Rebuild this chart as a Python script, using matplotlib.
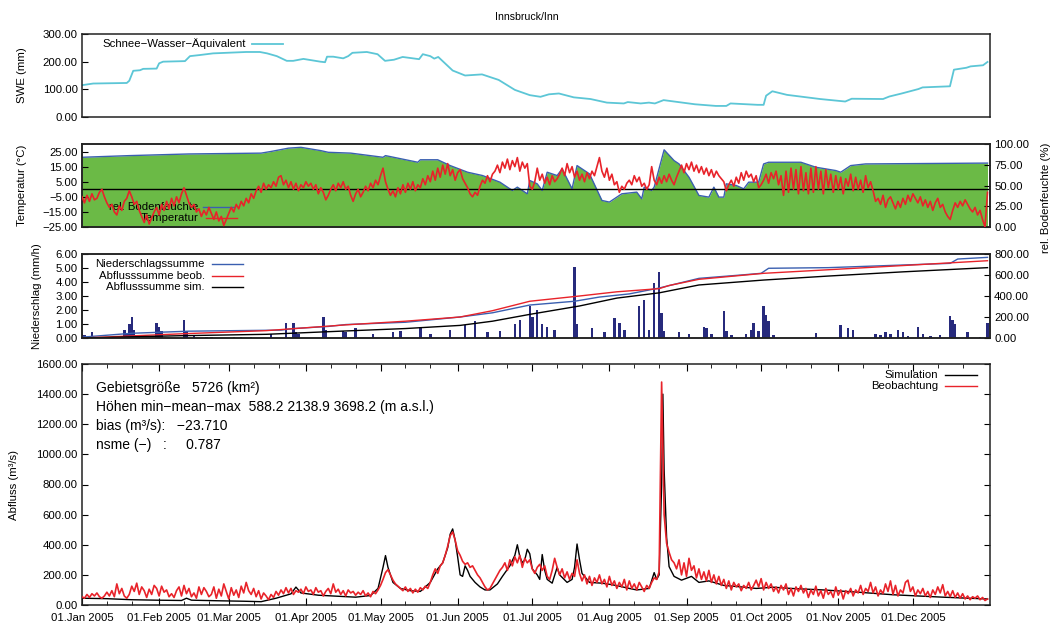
import datetime as dt
import numpy as np
import matplotlib
matplotlib.use("Agg")
import matplotlib.pyplot as plt
from matplotlib.ticker import FuncFormatter, FixedLocator

plt.rcParams['font.family'] = ['Liberation Sans', 'DejaVu Sans']

# ---------------- data ----------------
title = "Innsbruck/Inn"

# SWE (mm): day-of-year, value
swe_days = [0, 4.5, 18, 19, 20.6, 23.3, 24.6, 30, 31, 32.6, 41.4, 43.4, 47.4, 52.7, 66, 71.5, 74.4,
            78.3, 82.3, 84.9, 89, 95.8, 97.7, 98.5, 101, 105, 107, 108.7, 114.5, 118.8, 121.8, 125.4,
            128.9, 135.5, 137, 140, 141.6, 143.2, 149, 154, 160.8, 167.5, 174, 180, 184.3, 187.7,
            191.7, 197.7, 204.4, 211, 217.8, 219.4, 224.6, 227.9, 230.3, 233.8, 238, 246.4, 254.8,
            259, 260.7, 271.6, 274, 275, 277.5, 283.4, 296.7, 306.8, 309.4, 322, 324.5, 329.5,
            336.2, 337.9, 348.9, 350.5, 355.5, 357.2, 362.2, 364]
swe_vals = [115, 121, 123, 131, 167, 169, 174, 175, 194, 200, 202, 220, 224, 230, 235, 235, 230,
            220, 203, 203, 210, 200, 198, 218, 218, 212, 220, 232, 235, 227, 203, 207,
            217, 209, 227, 220, 211, 217, 168, 150, 154, 134, 98, 79, 73, 82,
            85, 71, 65, 52, 49, 54, 49, 52, 49, 61, 56, 46, 40,
            40, 49, 44, 44, 77, 93, 80, 65, 56, 66, 65, 74, 85,
            101, 107, 111, 171, 178, 183, 187, 199]

# air temperature (°C), daily from 1 Jan
temp_vals = [
    -5, -9, -4, -8, -3, -7, -6, -2, 0, -5,
    -9, -12, -10, -15, -17, -11, -14, -8, -6, -1,
    -5, -10, -8, -14, -18, -22, -17, -23, -19, -15,
    -12, -17, -10, -14, -8, -13, -6, -11, -5, -9,
    -3, 1, -4, -9, -12, -10, -15, -13, -18, -14,
    -17, -12, -16, -20, -15, -21, -18, -24, -20, -16,
    -12, -15, -10, -13, -8, -11, -6, -9, -3, -6,
    -1, 2, -2, 4, 0, 3, 1, 5, 2, 8,
    9, 3, 6, 1, 5, 0, 4, -1, 3, 1,
    5, 2, 4, 0, 3, -3, 1, -2, -7, -4,
    0, 3, -1, 4, 1, 5, 0, 2, -4, -8,
    -3, 0, -5, -2, 2, -1, 4, 1, 6, 3,
    9, 14, 5, 0, -4, -1, -5, 1, -3, 3,
    -2, 4, 0, 5, -1, 3, 1, 7, 3, 9,
    5, 12, 6, 14, 8, 16, 10, 17, 9, 13,
    6, 11, 13, 7, 4, 1, -3, -5, -2, -4,
    2, 6, 4, 9, 5, 10, 12, 16, 11, 18,
    14, 20, 13, 19, 15, 21, 12, 18, 14, 17,
    2, 0, 5, 14, 6, 10, 4, 8, 3, 9,
    5, 7, 10, 14, 9, 17, 11, 15, 8, 12,
    6, 10, 5, 11, 7, 12, 9, 15, 21, 12,
    8, 14, 6, 10, 3, 5, -2, 2, 0, 4,
    6, 3, 9, 5, 8, 2, 4, 0, 3, 15,
    6, 3, 8, 4, 9, 5, 10, 6, 3, 8,
    12, 16, 11, 17, 13, 18, 12, 16, 11, 15,
    10, 14, 9, 13, 8, 12, 9, 7, 5, -1,
    3, 6, 2, 8, 4, 11, 6, 12, 8, 10,
    5, 9, 1, 3, 6, 10, 4, 11, 7, 12,
    3, 9, -4, 12, -2, 14, 0, 13, -3, 15,
    -1, 11, -3, 14, -2, 15, 0, 12, -3, 13,
    1, 10, -2, 9, 0, 8, -3, 7, 2, 10,
    -1, 8, 0, 6, -2, 9, 1, 5, -1, -8,
    -6, -10, -4, -12, -7, -5, -9, -13, -8, -12,
    -6, -10, -4, -8, -3, -6, -9, -5, -11, -7,
    -12, -8, -14, -9, -6, -12, -10, -15, -18, -20,
    -14, -9, -12, -8, -11, -7, -10, -13, -15, -12,
    -17, -14, -20, -25, -2]

# relative soil moisture (%)
soil_days = [0, 19, 43, 72, 76, 83, 88, 96, 99, 108, 121, 122, 135, 136, 143, 148, 155, 161, 168,
             173, 175, 179, 180, 183, 185, 187, 191, 193, 197, 199, 204, 209, 212, 215, 217, 223,
             225, 226, 229, 230, 234, 238, 240, 244, 248, 252, 254, 256, 258, 259, 263, 266, 268,
             272, 274, 276, 289, 295, 303, 305, 307, 309, 315, 364]
soil_vals = [84, 86, 88, 89, 91, 95, 96, 92, 90, 89, 84, 86, 78, 81, 81, 74, 66, 62, 54,
             44, 48, 40, 56, 52, 44, 66, 62, 70, 46, 74, 64, 32, 30, 36, 40, 42,
             34, 48, 44, 48, 93, 80, 76, 60, 38, 36, 48, 36, 36, 52, 50, 46, 54,
             54, 76, 78, 78, 72, 68, 66, 70, 74, 76, 77]

# precipitation intensity (mm/h)
prec_days = [0, 1, 4, 17, 18, 19, 20, 21, 22, 23, 30, 31, 32, 41, 42, 45, 50, 52, 61, 64, 68, 76,
             82, 85, 86, 87, 97, 98, 105, 106, 110, 117, 125, 128, 136, 140, 148, 154, 158, 163,
             168, 174, 176, 180, 181, 183, 185, 187, 190, 198, 199, 205, 210, 214, 216, 218, 224,
             226, 228, 230, 232, 233, 234, 240, 244, 250, 251, 253, 258, 259, 261, 267, 269, 270,
             272, 274, 275, 276, 278, 295, 305, 308, 310, 319, 321, 323, 325, 328, 330, 332, 336,
             338, 341, 345, 349, 350, 351, 356, 361, 364]
prec_vals = [0.3, 0.2, 0.4, 0.6, 0.3, 1.0, 1.5, 0.6, 0.2, 0.2, 1.1, 0.8, 0.5, 1.3, 0.5, 0.2, 0.1,
             0.1, 0.1, 0.1, 0.1, 0.3, 1.1, 1.1, 0.4, 0.3, 1.5, 0.6, 0.5, 0.4, 0.7, 0.3, 0.4, 0.5,
             0.8, 0.3, 0.6, 0.9, 1.2, 0.4, 0.5, 1.0, 1.3, 2.3, 1.5, 2.0, 1.0, 0.8, 0.6, 5.1, 1.0,
             0.7, 0.4, 1.4, 1.1, 0.6, 2.3, 2.7, 0.6, 3.9, 4.7, 1.8, 0.5, 0.4, 0.3, 0.8, 0.7, 0.3,
             1.9, 0.5, 0.2, 0.3, 0.6, 1.1, 0.5, 2.3, 1.65, 1.2, 0.2, 0.35, 0.95, 0.7, 0.6, 0.3,
             0.2, 0.4, 0.3, 0.55, 0.45, 0.15, 0.8, 0.3, 0.15, 0.25, 1.55, 1.3, 1.0, 0.4, 0.1, 1.1]

# cumulative sums (mm)
psum_days = [0, 20, 43, 80, 85, 99, 106, 130, 152, 165, 180, 198, 208, 220, 232, 248, 265, 273,
             276, 300, 349, 352, 364]
psum_vals = [8, 45, 65, 75, 90, 110, 128, 150, 200, 240, 314, 350, 390, 420, 476, 568, 600, 616,
             664, 670, 711, 752, 768]
qobs_sum_days = [0, 40, 74, 106, 130, 152, 165, 180, 200, 215, 232, 236, 248, 274, 300, 330, 364]
qobs_sum_vals = [0, 40, 70, 125, 160, 200, 260, 350, 400, 440, 470, 500, 559, 616, 650, 690, 736]
qsim_sum_days = [0, 40, 74, 106, 130, 152, 165, 180, 200, 215, 232, 248, 274, 300, 330, 364]
qsim_sum_vals = [0, 22, 35, 67, 90, 120, 160, 225, 305, 380, 430, 505, 552, 590, 630, 670]

# observed discharge (m3/s), daily
qobs_vals = [
    55, 45, 70, 50, 75, 60, 80, 55, 45, 60,
    85, 60, 95, 55, 140, 75, 110, 60, 45, 70,
    125, 90, 145, 70, 120, 95, 50, 105, 70, 130,
    110, 60, 125, 85, 100, 55, 75, 50, 95, 120,
    60, 130, 75, 110, 55, 80, 45, 120, 70, 115,
    90, 55, 70, 120, 45, 105, 60, 140, 90,
    40, 115, 65, 100, 50, 125, 80, 150, 95, 70,
    110, 55, 95, 40, 80, 60, 35, 70, 50, 90,
    65, 100, 75, 115, 80, 110, 70, 95, 85, 105,
    75, 120, 90, 100, 70, 115, 85, 95, 60, 90,
    110, 75, 140, 85, 105, 70, 95, 60, 100, 80,
    90, 65, 85, 70, 95, 60, 80, 55, 90, 75,
    100, 130, 170, 215, 235, 200, 165, 140, 125, 110,
    95, 120, 90, 110, 80, 105, 85, 115, 100, 125,
    110, 150, 200, 240, 210, 260, 280, 330, 390, 460,
    485, 430, 360, 330, 290, 270, 280, 250, 260, 230,
    200, 180, 150, 120, 100, 110, 140, 170, 200, 230,
    250, 280, 230, 300, 260, 320, 280, 330, 250, 310,
    280, 300, 240, 210, 250, 270, 230, 260, 190, 170,
    230, 310, 250, 200, 240, 180, 220, 170, 210, 190,
    300, 210, 160, 200, 140, 190, 130, 180, 150, 200,
    140, 170, 120, 190, 130, 160, 110, 150, 120, 170,
    100, 160, 110, 140, 100, 150, 120, 90, 130, 110,
    150, 180, 170, 220, 1480, 600, 410, 350, 300, 280,
    240, 300, 200, 280, 190, 310, 230, 260, 180, 240,
    170, 220, 160, 230, 150, 200, 140, 190, 130, 170,
    110, 160, 100, 150, 120, 140, 95, 130, 110, 150,
    100, 130, 165, 120, 175, 100, 150, 110, 140, 90,
    120, 80, 130, 100, 140, 70, 110, 60, 120, 90,
    130, 80, 110, 50, 100, 70, 125, 60, 95, 45,
    110, 70, 90, 50, 120, 65, 100, 40, 95, 75,
    110, 60, 100, 80, 130, 70, 110, 90, 150, 80,
    120, 60, 100, 75, 140, 90, 160, 70, 130, 60,
    100, 80, 150, 165, 90, 120, 60, 100, 75, 110,
    60, 90, 50, 100, 70, 120, 80, 135, 60, 90,
    55, 95, 50, 80, 45, 75, 40, 60, 35, 55,
    45, 60, 35, 50, 30, 40]

# simulated discharge (m3/s)
qsim_days = [0, 10, 20, 30, 40, 42, 44, 55, 65, 72, 78, 84, 86, 88, 95, 103, 110, 116, 119, 121,
             122, 123, 125, 128, 132, 136, 140, 143, 145, 147, 148, 149, 150, 151, 152, 153, 154,
             155, 156, 158, 160, 162, 164, 167, 169, 172, 174, 175, 176, 177, 178, 179, 180, 181,
             183, 184, 185, 186, 187, 189, 191, 192, 195, 197, 198, 199, 200, 201, 204, 209, 213,
             216, 220, 223, 228, 230, 231, 232, 233, 233.5, 234, 235, 236, 238, 241, 245, 248,
             252, 258, 265, 271, 278, 285, 298, 312, 326, 346, 364]
qsim_vals = [45, 42, 35, 32, 30, 45, 32, 28, 25, 22, 45, 74, 119, 80, 65, 58, 52, 63, 110, 250,
             328, 250, 150, 110, 95, 90, 150, 240, 280, 380, 470, 505, 430, 320, 200, 190, 260,
             230, 190, 150, 120, 100, 100, 140, 190, 260, 330, 400, 320, 280, 300, 370, 340, 240,
             200, 170, 335, 230, 170, 145, 250, 200, 150, 170, 250, 405, 300, 210, 150, 145, 135,
             125, 110, 100, 110, 215, 170, 200, 800, 1400, 900, 450, 255, 190, 165, 190, 150,
             160, 130, 120, 110, 118, 110, 100, 85, 68, 52, 40]

info_lines = ["Gebietsgröße   5726 (km²)",
              "Höhen min−mean−max  588.2 2138.9 3698.2 (m a.s.l.)",
              "bias (m³/s):   −23.710",
              "nsme (−)   :     0.787"]

# ---------------- styling ----------------
W, H = 1051, 623
C_SWE = "#5cc6d6"
C_GREEN = "#6bba46"
C_BLUE = "#3a5fb0"
C_RED = "#e8232a"
C_NAVY = "#272a7c"
FS = 8.2

fig = plt.figure(figsize=(W / 100, H / 100), dpi=100)


def rect(top, bottom, left=82, right=990):
    return [left / W, 1 - bottom / H, (right - left) / W, (bottom - top) / H]


def fmt2(x, pos):
    return f"{x:.2f}".replace("-", "−")


def style(ax, xt=False):
    for s in ax.spines.values():
        s.set_linewidth(1.1)
        s.set_color("#222222")
    ax.tick_params(axis="both", direction="in", labelsize=FS, length=4, width=0.8, pad=3)
    ax.yaxis.set_major_formatter(FuncFormatter(fmt2))
    ax.set_xlim(0, 365)
    if not xt:
        ax.set_xticks([])


def ftext(x, y, s, **kw):
    fig.text(x / W, 1 - y / H, s, **kw)


ftext(527, 17, title, ha="center", va="center", fontsize=7.6)

# --- panel 1: SWE ---
ax1 = fig.add_axes(rect(34, 117))
style(ax1)
ax1.plot(swe_days, swe_vals, color=C_SWE, lw=1.3)
ax1.set_ylim(0, 300)
ax1.set_yticks([0, 100, 200, 300])
ftext(22, 75, "SWE (mm)", rotation=90, ha="center", va="center", fontsize=FS)
ftext(246, 44, "Schnee−Wasser−Äquivalent", ha="right", va="center", fontsize=FS)
fig.add_artist(plt.Line2D([252 / W, 283 / W], [1 - 44 / H] * 2, color=C_SWE, lw=1.3))

# --- panel 2: temperature + soil moisture ---
ax2 = fig.add_axes(rect(144, 227))
ax2r = ax2.twinx()
style(ax2)
style(ax2r)
ax2.set_zorder(ax2r.get_zorder() + 1)
ax2.patch.set_visible(False)
ax2r.fill_between(soil_days, 0, soil_vals, color=C_GREEN, lw=0)
ax2r.plot(soil_days, soil_vals, color=C_BLUE, lw=1.0)
ax2r.set_ylim(0, 100)
ax2r.set_yticks([0, 25, 50, 75, 100])
ax2.axhline(0, color="black", lw=1.0, zorder=2)
days365 = np.arange(len(temp_vals))
ax2.plot(days365, temp_vals, color=C_RED, lw=1.2, zorder=3)
ax2.set_ylim(-25, 30)
ax2.set_yticks([-25, -15, -5, 5, 15, 25])
ftext(22, 185, "Temperatur (°C)", rotation=90, ha="center", va="center", fontsize=FS)
ftext(1046, 198, "rel. Bodenfeuchte (%)", rotation=90, ha="center", va="center", fontsize=FS)
ax2.text(198 / W, 1 - 207 / H, "rel. Bodenfeuchte", transform=fig.transFigure, ha="right",
         va="center", fontsize=FS, zorder=1.5)
ax2.text(198 / W, 1 - 218 / H, "Temperatur", transform=fig.transFigure, ha="right",
         va="center", fontsize=FS, zorder=1.5)
ax2.plot([203 / W, 234 / W], [1 - 207 / H] * 2, transform=fig.transFigure, color=C_BLUE,
         lw=1.0, zorder=1.5, clip_on=False)
ax2.plot([206 / W, 237 / W], [1 - 218 / H] * 2, transform=fig.transFigure, color=C_RED,
         lw=1.0, zorder=1.5, clip_on=False)

# --- panel 3: precipitation + cumulative sums ---
ax3 = fig.add_axes(rect(254, 338))
ax3r = ax3.twinx()
style(ax3)
style(ax3r)
ax3.bar(prec_days, prec_vals, width=1.0, color=C_NAVY, lw=0, align="center")
ax3.set_ylim(0, 6)
ax3.set_yticks([0, 1, 2, 3, 4, 5, 6])
ax3r.plot(psum_days, psum_vals, color=C_BLUE, lw=1.0)
ax3r.plot(qobs_sum_days, qobs_sum_vals, color=C_RED, lw=1.0)
ax3r.plot(qsim_sum_days, qsim_sum_vals, color="black", lw=1.0)
ax3r.set_ylim(0, 800)
ax3r.set_yticks([0, 200, 400, 600, 800])
ftext(37, 296, "Niederschlag (mm/h)", rotation=90, ha="center", va="center", fontsize=FS)
for lab, col, yy in [("Niederschlagssumme", C_BLUE, 264), ("Abflusssumme beob.", C_RED, 276),
                     ("Abflusssumme sim.", "black", 287)]:
    ftext(205, yy, lab, ha="right", va="center", fontsize=FS)
    fig.add_artist(plt.Line2D([212 / W, 243 / W], [1 - yy / H] * 2, color=col, lw=1.0))

# --- panel 4: discharge ---
ax4 = fig.add_axes(rect(364, 605))
style(ax4, xt=True)
ax4.plot(qsim_days, qsim_vals, color="black", lw=1.0, zorder=2)
ax4.plot(np.arange(len(qobs_vals)), qobs_vals, color=C_RED, lw=1.2, zorder=3)
ax4.set_ylim(0, 1600)
ax4.set_yticks(np.arange(0, 1601, 200))
start = dt.date(2005, 1, 1)
month_starts = [(dt.date(2005, m, 1) - start).days for m in range(1, 13)]
month_labels = [dt.date(2005, m, 1).strftime("01.%b 2005") for m in range(1, 13)]
minor = [(dt.date(2005, m, d) - start).days for m in range(1, 13) for d in (11, 21)]
ax4.xaxis.set_major_locator(FixedLocator(month_starts))
ax4.set_xticklabels(month_labels)
ax4.xaxis.set_minor_locator(FixedLocator(minor))
ax4.tick_params(axis="x", which="both", top=True, direction="in")
ax4.tick_params(axis="x", which="major", length=5, pad=6)
ax4.tick_params(axis="x", which="minor", length=3)
ax4.tick_params(axis="y", right=True)
ftext(14, 485, "Abfluss (m³/s)", rotation=90, ha="center", va="center", fontsize=FS)
for lab, col, yy in [("Simulation", "black", 375), ("Beobachtung", C_RED, 386)]:
    ftext(938, yy, lab, ha="right", va="center", fontsize=FS)
    fig.add_artist(plt.Line2D([945 / W, 977 / W], [1 - yy / H] * 2, color=col, lw=1.0))
for i, line in enumerate(info_lines):
    ftext(96, 388 + i * 19, line, ha="left", va="center", fontsize=10)

fig.savefig("out.png", dpi=100)
